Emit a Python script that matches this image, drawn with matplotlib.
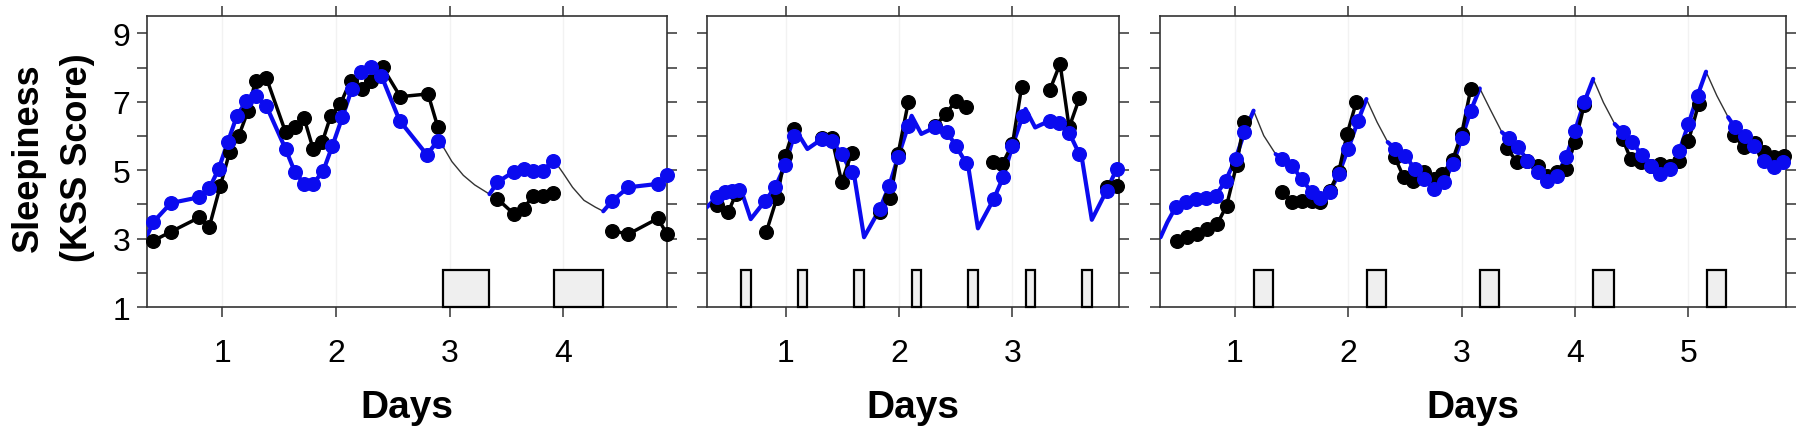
import numpy as np
import matplotlib
matplotlib.use("Agg")
import matplotlib.pyplot as plt
from matplotlib.patches import Rectangle

plt.rcParams['font.family'] = ['Liberation Sans', 'DejaVu Sans']

# ---------------- Panel 1 ----------------
p1_obs_t = [0.397, 0.55, 0.80, 0.888, 0.985, 1.067, 1.147, 1.226, 1.294, 1.39,
            1.558, 1.638, 1.72, 1.80, 1.88, 1.955, 2.04, 2.13, 2.23, 2.31, 2.41,
            2.566, 2.81, 2.895,
            3.42, 3.565, 3.65, 3.73, 3.82, 3.91,
            4.43, 4.57, 4.83, 4.91]
p1_obs = [2.94, 3.20, 3.62, 3.35, 4.55, 5.54, 6.01, 6.72, 7.62, 7.69,
          6.11, 6.25, 6.53, 5.62, 5.82, 6.59, 6.94, 7.62, 7.37, 7.62, 8.01,
          7.15, 7.23, 6.27,
          4.16, 3.72, 3.88, 4.24, 4.24, 4.32,
          3.23, 3.13, 3.59, 3.13]
p1_pred_t = [0.397, 0.55, 0.80, 0.888, 0.97, 1.05, 1.13, 1.214, 1.30, 1.39,
             1.558, 1.638, 1.72, 1.80, 1.89, 1.97, 2.057, 2.14, 2.22, 2.31, 2.40,
             2.56, 2.80, 2.895,
             3.42, 3.565, 3.65, 3.73, 3.82, 3.91,
             4.43, 4.57, 4.83, 4.91]
p1_pred = [3.49, 4.04, 4.21, 4.47, 5.04, 5.82, 6.59, 7.03, 7.16, 6.87,
           5.62, 4.96, 4.60, 4.60, 4.99, 5.72, 6.55, 7.37, 7.86, 8.01, 7.76,
           6.45, 5.45, 5.86,
           4.65, 4.96, 5.04, 4.99, 4.99, 5.28,
           4.11, 4.50, 4.60, 4.87]
p1_curve_t = [0.34, 2.94, 3.02, 3.12, 3.22, 3.35, 3.92, 4.00, 4.08, 4.18, 4.28, 4.35]
p1_curve = [3.08, 5.70, 5.25, 4.85, 4.57, 4.30, 5.28, 4.90, 4.50, 4.12, 3.92, 3.80]
p1_sleep_start = [2.94, 3.92]
p1_sleep_end = [3.35, 4.35]
p1_xlim = (0.34, 4.91)
p1_xticks = [1, 2, 3, 4]

# ---------------- Panel 2 ----------------
p2_obs_t = [0.39, 0.49, 0.56,
            0.826, 0.92, 0.994, 1.07,
            1.317, 1.405, 1.493, 1.58,
            1.83, 1.92, 1.99, 2.08,
            2.32, 2.41, 2.50, 2.59,
            2.83, 2.91, 3.00, 3.08,
            3.33, 3.42, 3.50, 3.59,
            3.83, 3.92]
p2_obs = [3.98, 3.77, 4.30,
          3.18, 4.18, 5.42, 6.20,
          5.95, 5.95, 4.65, 5.50,
          3.77, 4.18, 5.47, 6.98,
          6.30, 6.64, 7.03, 6.84,
          5.25, 5.18, 5.77, 7.42,
          7.35, 8.11, 6.25, 7.10,
          4.50, 4.53]
p2_pred_t = [0.39, 0.467, 0.524, 0.582,
             0.818, 0.906, 0.994, 1.07,
             1.317, 1.405, 1.493, 1.58,
             1.83, 1.913, 1.99, 2.08,
             2.315, 2.418, 2.50, 2.59,
             2.835, 2.917, 3.00, 3.09,
             3.33, 3.41, 3.50, 3.59,
             3.83, 3.92]
p2_pred = [4.21, 4.35, 4.40, 4.42,
           4.11, 4.50, 5.15, 5.99,
           5.91, 5.86, 5.47, 4.94,
           3.87, 4.55, 5.38, 6.30,
           6.25, 6.13, 5.72, 5.21,
           4.16, 4.79, 5.72, 6.59,
           6.45, 6.38, 6.10, 5.47,
           4.40, 5.04]
p2_curve_t = [0.304, 0.605, 0.69, 1.105, 1.19, 1.605, 1.69, 2.11, 2.195,
              2.61, 2.695, 3.115, 3.20, 3.615, 3.70, 3.94]
p2_curve = [3.92, 4.42, 3.57, 6.08, 5.62, 4.80, 3.04, 6.59, 6.06,
            5.10, 3.30, 6.79, 6.25, 5.30, 3.55, 5.15]
p2_sleep_start = [0.605, 1.105, 1.605, 2.11, 2.61, 3.115, 3.615]
p2_sleep_end = [0.69, 1.19, 1.69, 2.195, 2.695, 3.20, 3.70]
p2_xlim = (0.304, 3.94)
p2_xticks = [1, 2, 3]

# ---------------- Panel 3 ----------------
p3_obs_t = [0.49, 0.58, 0.67, 0.757, 0.845, 0.927, 1.015, 1.08,
            1.417, 1.50, 1.588, 1.676, 1.755, 1.837, 1.916, 1.99, 2.07,
            2.41, 2.49, 2.575, 2.665, 2.753, 2.83, 2.92, 3.00, 3.08,
            3.40, 3.49, 3.58, 3.67, 3.75, 3.84, 3.92, 4.00, 4.08,
            4.42, 4.49, 4.58, 4.67, 4.75, 4.84, 4.92, 5.00, 5.09,
            5.40, 5.49, 5.59, 5.67, 5.75, 5.84]
p3_obs = [2.94, 3.04, 3.13, 3.28, 3.43, 3.96, 5.15, 6.40,
          4.37, 4.08, 4.11, 4.10, 4.08, 4.40, 4.95, 6.06, 6.98,
          5.38, 4.79, 4.69, 4.94, 4.74, 4.89, 5.30, 6.06, 7.37,
          5.64, 5.23, 5.28, 5.13, 4.84, 4.95, 5.04, 5.82, 6.90,
          5.91, 5.33, 5.23, 5.13, 5.18, 5.13, 5.28, 5.86, 6.94,
          6.03, 5.67, 5.80, 5.54, 5.38, 5.42]
p3_pred_t = [0.478, 0.566, 0.654, 0.742, 0.83, 0.918, 1.006, 1.085,
             1.417, 1.506, 1.588, 1.676, 1.755, 1.837, 1.916, 1.999, 2.087,
             2.416, 2.504, 2.586, 2.665, 2.753, 2.84, 2.924, 3.00, 3.08,
             3.414, 3.50, 3.58, 3.67, 3.75, 3.84, 3.92, 4.00, 4.08,
             4.42, 4.50, 4.59, 4.67, 4.75, 4.84, 4.92, 5.00, 5.08,
             5.41, 5.50, 5.58, 5.67, 5.75, 5.83]
p3_pred = [3.92, 4.06, 4.16, 4.19, 4.25, 4.69, 5.33, 6.11,
           5.33, 5.13, 4.74, 4.37, 4.18, 4.37, 4.89, 5.62, 6.45,
           5.62, 5.42, 5.04, 4.74, 4.45, 4.65, 5.18, 5.93, 6.74,
           5.93, 5.67, 5.28, 4.94, 4.69, 4.84, 5.38, 6.16, 6.98,
           6.11, 5.82, 5.45, 5.13, 4.89, 5.04, 5.57, 6.35, 7.18,
           6.25, 6.01, 5.72, 5.28, 5.08, 5.23]
p3_curve_t = [0.345, 0.405, 1.165, 1.255, 1.36, 2.16, 2.255, 2.348,
              3.16, 3.25, 3.355, 4.16, 4.25, 4.35, 5.155, 5.25, 5.35, 5.86]
p3_curve = [3.04, 3.48, 6.74, 6.01, 5.47, 7.08, 6.40, 5.82,
            7.39, 6.79, 6.11, 7.67, 6.98, 6.35, 7.88, 7.18, 6.55, 5.30]
p3_sleep_start = [1.165, 2.165, 3.16, 4.16, 5.16]
p3_sleep_end = [1.335, 2.335, 3.33, 4.34, 5.33]
p3_xlim = (0.34, 5.86)
p3_xticks = [1, 2, 3, 4, 5]

y_ticks = list(range(1, 10))
y_lim = (1, 9.5)
box_top = 2.09

BLUE = '#0b0bef'

fig = plt.figure(figsize=(18.10, 4.35), dpi=100)
bottom = 1 - 308 / 435
height = (308 - 17.3) / 435
ax1 = fig.add_axes([147 / 1810, bottom, 520 / 1810, height])
ax2 = fig.add_axes([707 / 1810, bottom, 412 / 1810, height])
ax3 = fig.add_axes([1160 / 1810, bottom, 626 / 1810, height])


def split_by_sleep(t, v, starts, ends):
    t = list(t); v = list(v)
    xs, ys = [t[0]], [v[0]]
    for i in range(1, len(t)):
        if any(t[i - 1] <= s and t[i] >= e for s, e in zip(starts, ends)):
            xs.append(np.nan); ys.append(np.nan)
        xs.append(t[i]); ys.append(v[i])
    return np.array(xs), np.array(ys)


def draw_panel(ax, obs_t, obs, pred_t, pred, curve_t, curve, s_start, s_end,
               xlim, xticks, show_ylabels):
    # model trajectory (marker times + sleep/edge points)
    mt = np.array(list(pred_t) + list(curve_t))
    mv = np.array(list(pred) + list(curve))
    order = np.argsort(mt, kind='stable')
    mt, mv = mt[order], mv[order]
    ax.plot(mt, mv, color='#333333', lw=1.0, zorder=2)
    inside = np.zeros(len(mt), dtype=bool)
    for s, e in zip(s_start, s_end):
        inside |= (mt > s + 1e-6) & (mt < e - 1e-6)
    bv = mv.copy()
    bv[inside] = np.nan
    ax.plot(mt, bv, color=BLUE, lw=3.0, zorder=3, solid_capstyle='round')

    # observed
    ox, oy = split_by_sleep(obs_t, obs, s_start, s_end)
    ax.plot(ox, oy, color='black', lw=2.5, zorder=4)
    ax.plot(obs_t, obs, 'o', color='black', ms=9.8, zorder=5, clip_on=False)
    ax.plot(pred_t, pred, 'o', color=BLUE, ms=9.8, zorder=6, clip_on=False)

    # sleep boxes
    for s, e in zip(s_start, s_end):
        ax.add_patch(Rectangle((s, y_lim[0]), e - s, box_top - y_lim[0],
                               facecolor='#efefef', edgecolor='black',
                               lw=1.6, zorder=7, clip_on=False))

    ax.set_xlim(*xlim)
    ax.set_ylim(*y_lim)
    ax.set_xticks(xticks)
    ax.set_yticks(y_ticks)
    if show_ylabels:
        ax.set_yticklabels([str(v) if v % 2 else '' for v in y_ticks])
    else:
        ax.set_yticklabels([])
    ax.tick_params(axis='both', which='major', direction='out', length=7,
                   width=1.1, color='#333333', labelsize=23, pad=15,
                   top=True, right=True, labeltop=False, labelright=False)
    ax.tick_params(axis='y', pad=5)
    for sp in ax.spines.values():
        sp.set_color('#333333')
        sp.set_linewidth(1.2)
    for d in xticks:
        ax.axvline(d, color='#f2f2f2', lw=1.0, zorder=0)
    bb = ax.get_position()
    fig.text(bb.x0 + bb.width / 2, 1 - 418 / 435, 'Days', ha='center',
             va='baseline', fontsize=28, fontweight='bold')


draw_panel(ax1, p1_obs_t, p1_obs, p1_pred_t, p1_pred, p1_curve_t, p1_curve,
           p1_sleep_start, p1_sleep_end, p1_xlim, p1_xticks, True)
draw_panel(ax2, p2_obs_t, p2_obs, p2_pred_t, p2_pred, p2_curve_t, p2_curve,
           p2_sleep_start, p2_sleep_end, p2_xlim, p2_xticks, False)
draw_panel(ax3, p3_obs_t, p3_obs, p3_pred_t, p3_pred, p3_curve_t, p3_curve,
           p3_sleep_start, p3_sleep_end, p3_xlim, p3_xticks, False)

fig.text(53 / 1810, 1 - 158 / 435, 'Sleepiness\n(KSS Score)', rotation=90,
         ha='center', va='center', fontsize=26, fontweight='bold',
         linespacing=1.5)

fig.savefig('out.png', dpi=100)
